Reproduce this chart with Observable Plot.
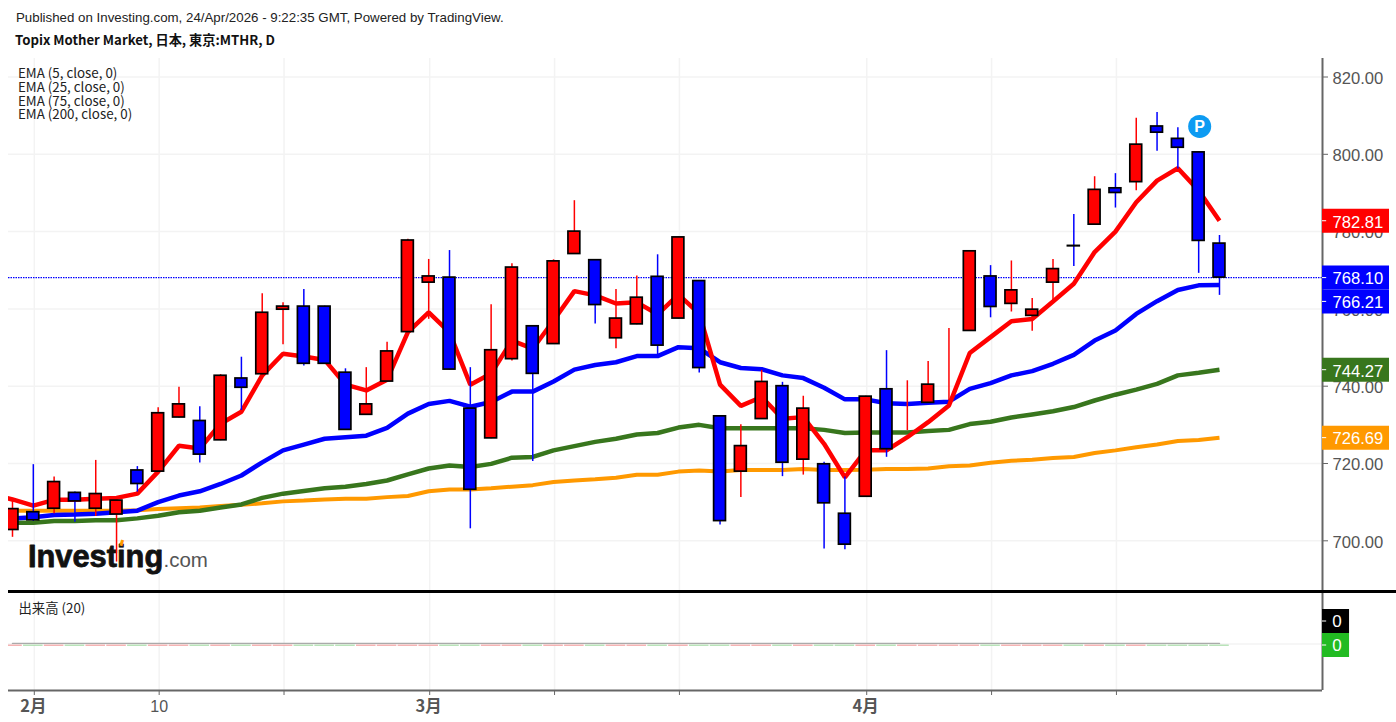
<!DOCTYPE html>
<html lang="ja"><head><meta charset="utf-8">
<script src="https://cdn.jsdelivr.net/npm/d3@7"></script>
<script src="https://cdn.jsdelivr.net/npm/@observablehq/plot@0.6"></script>
<style>
html,body{margin:0;padding:0;background:#fff;overflow:hidden}
#head{position:relative;height:58px}
#pub{position:absolute;left:16px;top:10px;font:13.3px "Liberation Sans",Arial,sans-serif;color:#222;white-space:nowrap}
#ttl{position:absolute;left:15px;top:30px;font:700 13.2px "Noto Sans CJK JP","Noto Sans",sans-serif;color:#111;white-space:nowrap}
#sep{margin-left:8px;height:2.5px;background:#000}
svg{display:block}
</style></head><body>
<div id="head"><div id="pub">Published on Investing.com, 24/Apr/2026 - 9:22:35 GMT, Powered by TradingView.</div>
<div id="ttl">Topix Mother Market, 日本, 東京:MTHR, D</div></div>
<div id="main"></div><div id="sep"></div><div id="vol"></div>
<script>
// ---- values ----
const open  = [702.8,707.4,708.3,712.4,708.3,706.8,718.2,717.9,731.9,731.0,726.0,742.0,743.1,759.8,760.6,760.6,743.5,732.6,741.2,754.0,766.8,768.1,734.2,726.5,747.0,755.5,750.9,774.2,772.6,752.4,756.0,768.3,757.5,767.2,732.2,717.9,731.5,740.0,721.0,719.8,707.0,711.4,739.2,733.0,735.7,742.6,754.3,768.4,761.3,758.2,766.8,776.3,781.8,791.2,792.8,807.2,804.0,800.5,776.9];
const high  = [710.4,719.7,716.5,712.6,720.8,710.5,719.2,734.4,739.7,734.7,743.0,747.5,763.9,761.6,765.0,760.7,744.5,744.8,751.4,778.0,772.8,775.1,744.8,761.1,771.7,755.6,772.7,788.0,772.7,765.0,768.5,774.0,778.6,767.3,732.3,730.0,744.1,741.0,737.4,720.3,716.5,737.4,749.2,741.4,746.4,754.9,775.0,771.2,772.4,762.7,772.8,784.4,794.2,795.0,809.3,810.8,806.9,800.6,779.0];
const low   = [700.9,705.0,707.0,704.8,706.3,694.5,712.6,717.8,731.8,720.1,725.9,733.7,743.0,750.7,745.2,745.7,728.6,732.5,741.1,753.9,757.3,744.2,703.1,726.4,746.5,720.5,750.8,774.1,756.1,749.7,755.9,747.9,757.4,743.4,704.1,711.2,731.4,716.6,717.0,697.9,697.7,711.3,721.6,728.5,735.6,736.3,754.2,757.7,759.2,754.2,762.2,771.0,781.7,786.1,790.6,800.8,796.2,769.2,763.5];
const close = [708.2,705.3,715.2,710.2,712.1,710.4,714.7,733.0,735.3,722.3,742.7,739.6,759.0,760.6,745.8,745.8,728.7,735.3,749.0,777.7,768.4,744.3,713.2,749.3,770.7,743.2,772.3,780.0,761.0,757.5,762.9,750.5,778.5,744.7,705.1,724.5,741.1,720.2,734.2,709.7,699.0,737.3,723.7,733.0,740.4,742.6,774.9,760.5,764.8,759.8,770.3,776.2,790.8,790.0,802.5,805.6,801.7,777.6,768.1];
// moving averages start one session before the first visible candle
const ema5   = [712.0,710.7,709.1,710.6,710.6,710.9,711.1,712.2,717.9,724.6,723.9,730.3,733.4,742.8,748.4,747.7,746.8,740.4,738.9,741.7,754.0,759.1,753.9,740.4,743.3,751.8,749.7,757.0,764.6,763.5,761.4,761.7,758.6,763.7,758.8,740.4,734.9,737.2,731.6,732.0,725.1,716.4,723.4,723.4,726.8,730.7,735.0,748.6,752.7,756.8,757.4,761.9,766.5,774.7,780.0,787.6,793.2,796.4,790.6,782.81];
const ema25  = [705.8,705.8,706.1,706.7,706.8,707.0,707.4,707.8,710.0,711.7,712.8,714.7,716.9,720.3,723.4,724.9,726.4,726.8,727.2,729.2,732.9,735.4,736.2,734.7,735.9,738.6,738.6,741.2,744.3,745.5,746.2,747.8,747.8,750.1,749.8,746.2,744.7,744.4,742.8,742.1,739.6,736.6,736.6,735.6,735.4,735.7,736.0,739.3,740.8,742.8,743.9,745.8,748.1,751.8,754.4,758.7,762.0,764.9,766.1,766.21];
const ema75  = [704.7,704.7,704.7,705.1,705.1,705.3,705.3,705.8,706.5,707.4,707.8,708.6,709.4,711.1,712.2,712.9,713.6,714.0,714.7,715.6,717.2,718.7,719.5,719.1,719.9,721.5,721.7,723.4,724.5,725.6,726.4,727.5,727.9,729.3,730.0,729.1,729.1,729.1,729.1,729.1,728.7,727.9,728.0,728.0,728.0,728.4,728.7,730.2,730.8,731.9,732.7,733.5,734.6,736.3,737.8,739.1,740.6,742.8,743.5,744.27];
const ema200 = [707.8,707.8,707.8,707.8,707.8,707.8,707.8,707.9,708.2,708.4,708.6,709.0,709.3,709.7,710.2,710.4,710.7,710.9,710.9,711.3,711.6,712.8,713.3,713.3,713.6,714.0,714.4,715.2,715.6,715.9,716.3,717.1,717.1,717.9,718.2,717.9,718.3,718.3,718.3,718.6,718.3,718.3,718.4,718.6,718.6,718.7,719.3,719.5,720.2,720.7,721.0,721.4,721.7,722.7,723.4,724.2,724.9,725.8,726.1,726.69];
const volume = close.map(() => 0);
const lastClose = 768.10;
const yTicks = [700,720,740,760,780,800,820];
const xTickIdx = [1,7,13,20,26,32,41,47,53];
const xTickLabels = {1:"2月",7:"10",20:"3月",41:"4月"};
const emaLegend = ["EMA (5, close, 0)","EMA (25, close, 0)","EMA (75, close, 0)","EMA (200, close, 0)"];
const priceTags = [
  {v:782.81,c:"#ff0000",shift:0},
  {v:768.10,c:"#0000ff",shift:0},
  {v:766.21,c:"#0000ff",shift:16.5},
  {v:744.27,c:"#38761d",shift:0},
  {v:726.69,c:"#ff9900",shift:0}
];
const volTags = [{c:"#000000",shift:-23},{c:"#22bb22",shift:1}];
// ---- layout ----
const W=1396, xDom=[-0.192,62.95], tagEnd=66.17, tagText=63.43, volTagEnd=64.25;
const volDom=[-46.5,50.5];
const halfBody=0.285, RED="#ff0000", BLUE="#0000ff", GRID="#f3f3f3", AX="#666";
const FONT='"Liberation Sans",Arial,sans-serif', JP='"Noto Sans CJK JP","Noto Sans",sans-serif';

const candles = close.map((c,i)=>({i,o:open[i],h:high[i],l:low[i],c,col:c>=open[i]?RED:BLUE}));
const ser = a => a.map((v,k)=>({i:k-1,v}));
const line = (a,stroke,w) => Plot.line(ser(a),{x:"i",y:"v",stroke,strokeWidth:w,clip:true,strokeLinejoin:"miter",strokeLinecap:"butt"});

const main = Plot.plot({
  width:W,height:532,marginLeft:8,marginRight:74,marginTop:0,marginBottom:0,
  style:{fontFamily:FONT,background:"transparent",overflow:"visible"},
  x:{type:"linear",domain:xDom,axis:null},
  y:{type:"linear",domain:[687.14,824.79],axis:null},
  marks:[
    Plot.ruleY(yTicks,{stroke:GRID,strokeWidth:1.5}),
    Plot.ruleX(xTickIdx,{stroke:GRID,strokeWidth:1.5,dx:1}),
    Plot.ruleY([lastClose],{stroke:"#0000ff",strokeWidth:1.2,strokeDasharray:"1.5,1"}),
    Plot.axisY(yTicks,{anchor:"right",tickSize:5,stroke:AX,tickFormat:()=>"",label:null,tickStrokeWidth:1.5}),
    Plot.axisY(yTicks,{anchor:"right",tickSize:0,tickPadding:10,dy:1.5,fill:"#555",fontSize:16.6,tickFormat:d=>d.toFixed(2),label:null,textAnchor:"start"}),
    ...emaLegend.map((t,k)=>Plot.text([t],{frameAnchor:"top-left",dx:9.5,dy:[10.5,24,38,51.5][k],text:d=>d,textAnchor:"start",lineAnchor:"top",fontSize:13.35,fontFamily:JP,fill:"#222"})),
    Plot.text(["Investing"],{frameAnchor:"bottom-left",dx:19.5,dy:-24,text:d=>d,textAnchor:"start",fontSize:30.8,fontWeight:700,fill:"#111",stroke:"#111",strokeWidth:.8}),
    Plot.text([".com"],{frameAnchor:"bottom-left",dx:155,dy:-23.5,text:d=>d,textAnchor:"start",fontSize:20.5,fill:"#555"}),
    Plot.text(["▮"],{frameAnchor:"bottom-left",dx:110,dy:-47,text:d=>d,fontSize:8,rotate:20,fill:"#ff9900"}),
    line(ema200,"#ff9900",4),
    line(ema75,"#38761d",4.5),
    line(ema25,"#0000ff",4.5),
    line(ema5,"#ff0000",4.5),
    Plot.ruleX(candles,{x:"i",y1:"l",y2:"h",stroke:"col",strokeWidth:1.5,clip:true}),
    Plot.rect(candles,{x1:d=>d.i-halfBody,x2:d=>d.i+halfBody,y1:"o",y2:"c",fill:"col",stroke:"#000",strokeWidth:1.7,clip:true}),
    Plot.dot([{i:57,v:807.2}],{x:"i",y:"v",dx:1,r:11.5,fill:"#0d9bf2"}),
    Plot.text([{i:57,v:807.2}],{x:"i",y:"v",dx:1,text:()=>"P",fill:"#fff",fontWeight:700,fontSize:16}),
    Plot.ruleX([xDom[1]],{stroke:AX,strokeWidth:2}),
  ].concat(priceTags.map(t=>[
    Plot.ruleY([t],{y:"v",x1:xDom[1],x2:tagEnd,stroke:t.c,strokeWidth:24,dy:t.shift}),
    Plot.ruleY([t],{y:"v",x1:xDom[1],x2:xDom[1]+0.2,stroke:"#fff",strokeWidth:1,dy:t.shift}),
    Plot.text([t],{x:tagText,y:"v",text:d=>d.v.toFixed(2),textAnchor:"start",fill:"#fff",fontSize:16.6,dy:t.shift+1.5})
  ]).flat())
});
document.getElementById("main").append(main);

const volData = volume.map((v,i)=>({i,v,col:close[i]>=open[i]?"#f3a0a0":"#a8dca8"}));
const vol = Plot.plot({
  width:W,height:130,marginLeft:8,marginRight:74,marginTop:0,marginBottom:33,
  style:{fontFamily:FONT,background:"transparent",overflow:"visible"},
  x:{type:"linear",domain:xDom,axis:null},
  y:{type:"linear",domain:volDom,axis:null},
  marks:[
    Plot.ruleY([0],{stroke:GRID,strokeWidth:1.5}),
    Plot.ruleX(xTickIdx,{stroke:GRID,strokeWidth:1.5,dx:1}),
    Plot.text(["出来高 (20)"],{frameAnchor:"top-left",dx:10,dy:10.5,text:d=>d,textAnchor:"start",lineAnchor:"top",fontSize:13.35,fontFamily:JP,fill:"#222"}),
    Plot.lineY(volData,{x:"i",y:"v",stroke:"#aaa",strokeWidth:1.4,dy:-.6,clip:true}),
    Plot.ruleY(volData,{y:"v",x1:d=>d.i-.47,x2:d=>d.i+.47,stroke:"col",strokeWidth:1.2,dy:1.2,clip:true}),
    Plot.ruleX([xDom[1]],{stroke:AX,strokeWidth:2}),
    Plot.axisX(xTickIdx,{anchor:"bottom",tickSize:5,dx:1,stroke:AX,tickStrokeWidth:1.5,label:null,tickFormat:()=>""}),
    Plot.ruleY([volDom[0]],{stroke:AX,strokeWidth:2}),
    Plot.text(Object.keys(xTickLabels).map(Number).filter(k=>k!==7),{x:d=>d,frameAnchor:"bottom",lineAnchor:"middle",dy:16,dx:0,text:d=>xTickLabels[d],fontSize:16.5,fontWeight:700,fontFamily:JP,fill:"#555"}),
    Plot.text([7],{x:d=>d,frameAnchor:"bottom",lineAnchor:"middle",dy:16,dx:1,text:d=>xTickLabels[d],fontSize:16,fill:"#555"}),
  ].concat(volTags.map(t=>[
    Plot.ruleY([0],{x1:xDom[1],x2:volTagEnd,stroke:t.c,strokeWidth:24,dy:t.shift}),
    Plot.ruleY([0],{x1:xDom[1],x2:xDom[1]+0.2,stroke:"#fff",strokeWidth:1,dy:t.shift}),
    Plot.text(["0"],{x:(xDom[1]+volTagEnd)/2,y:0,dx:1,text:d=>d,fill:"#fff",fontSize:17,dy:t.shift+1})
  ]).flat())
});
document.getElementById("vol").append(vol);
</script></body></html>
